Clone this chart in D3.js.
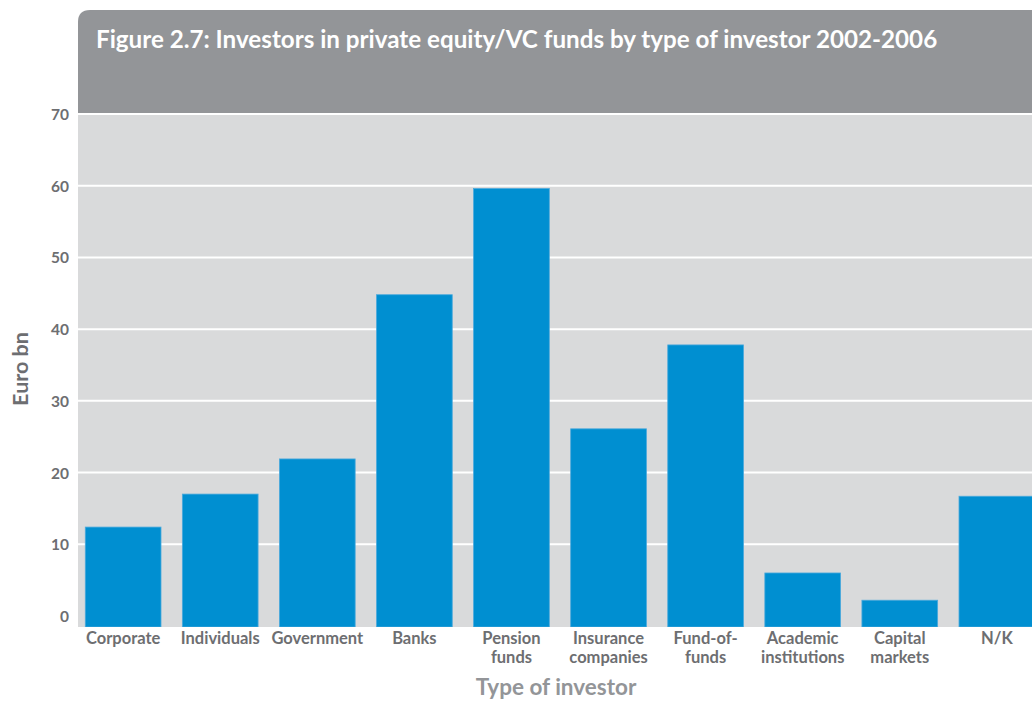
<!DOCTYPE html>
<html><head><meta charset="utf-8">
<script src="https://cdn.jsdelivr.net/npm/d3@7"></script>
<style>body{margin:0;background:#fff;} svg{display:block;}</style>
</head><body>
<svg id="c" width="1032" height="701"></svg>
<script>
const categories = [["Corporate"],["Individuals"],["Government"],["Banks"],["Pension","funds"],["Insurance","companies"],["Fund-of-","funds"],["Academic","institutions"],["Capital","markets"],["N/K"]];
const values = [12.4, 17.0, 21.9, 44.8, 59.6, 26.1, 37.8, 6.0, 2.2, 16.7];
const yTicks = [0,10,20,30,40,50,60,70];
const title = "Figure 2.7: Investors in private equity/VC funds by type of investor 2002-2006";
const xTitle = "Type of investor";
const yTitle = "Euro bn";

(function(){
const svg = d3.select("#c");
const font = "Lato, 'Open Sans', sans-serif";
const pLeft = 78, pTop = 114, plotBottom = 627, pRight = 1042;

// title bar with rounded top-left corner
const r = 12;
svg.append("path")
  .attr("d", `M${pLeft},${pTop} L${pLeft},${10 + r} Q${pLeft},10 ${pLeft + r},10 L1032,10 L1032,${pTop} Z`)
  .attr("fill", "#939598");
svg.append("text").attr("x", 96).attr("y", 48)
  .attr("fill", "#fff").attr("font-family", font).attr("font-weight", 700)
  .attr("font-size", 24.2).text(title);

// plot background
svg.append("rect").attr("x", pLeft).attr("y", pTop).attr("width", 1032 - pLeft).attr("height", plotBottom - pTop)
  .attr("fill", "#d9dadb");

const y = d3.scaleLinear().domain([0, 70]).range([616, pTop]);
const x = d3.scaleBand().domain(d3.range(categories.length)).range([pLeft, pRight])
  .paddingInner(0.22).paddingOuter(0.075);

// gridlines
svg.append("g").selectAll("line").data(yTicks.filter(t => t > 0)).join("line")
  .attr("x1", pLeft).attr("x2", 1032).attr("y1", d => y(d)).attr("y2", d => y(d))
  .attr("stroke", "#fff").attr("stroke-width", 2);

// y tick labels
svg.append("g").selectAll("text").data(yTicks).join("text")
  .attr("x", 69).attr("y", d => y(d) + 6).attr("text-anchor", "end")
  .attr("font-family", font).attr("font-weight", 700).attr("font-size", 15.5)
  .attr("fill", "#6d6e71").text(d => d);

// bars
svg.append("defs").append("clipPath").attr("id", "clip")
  .append("rect").attr("x", pLeft).attr("y", pTop).attr("width", 1032 - pLeft).attr("height", plotBottom - pTop);
svg.append("g").attr("clip-path", "url(#clip)").selectAll("rect").data(values).join("rect")
  .attr("x", (d, i) => x(i)).attr("width", x.bandwidth())
  .attr("y", d => y(d)).attr("height", d => plotBottom - y(d))
  .attr("fill", "#008fd1").attr("stroke", "#4ba9dc").attr("stroke-width", 0.8);

// x labels
const xl = svg.append("g").selectAll("text").data(categories).join("text")
  .attr("x", (d, i) => x(i) + x.bandwidth() / 2).attr("y", 644)
  .attr("text-anchor", "middle").attr("font-family", font).attr("font-weight", 700)
  .attr("font-size", 16.5).attr("fill", "#6d6e71");
xl.each(function(d) {
  const t = d3.select(this);
  const cx = t.attr("x");
  d.forEach((line, k) => t.append("tspan").attr("x", cx).attr("dy", k === 0 ? 0 : 19).text(line));
});

// axis titles
svg.append("text").attr("x", 556).attr("y", 695).attr("text-anchor", "middle")
  .attr("font-family", font).attr("font-weight", 700).attr("font-size", 22.5)
  .attr("fill", "#939598").text(xTitle);
svg.append("text").attr("transform", "translate(28,369) rotate(-90)").attr("text-anchor", "middle")
  .attr("font-family", font).attr("font-weight", 700).attr("font-size", 21.5)
  .attr("fill", "#6d6e71").text(yTitle);
})();
</script>
</body></html>
